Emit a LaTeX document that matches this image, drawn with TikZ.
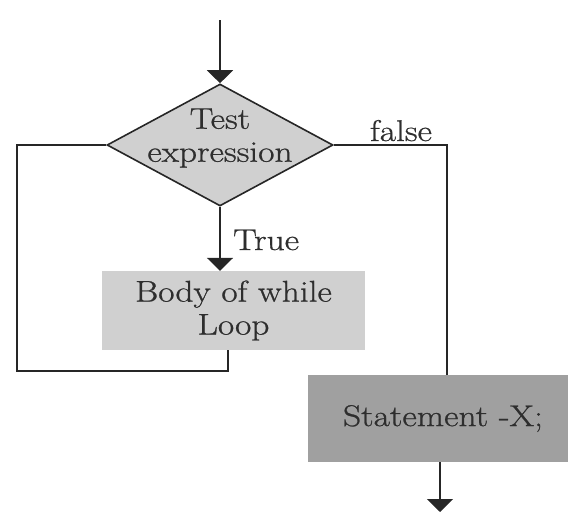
\documentclass[tikz,border=0pt]{standalone}
\usepackage{fontspec}
\newfontfamily\diagfont{Latin Modern Roman}[FakeStretch=1.18,FakeBold=0.8]
\usetikzlibrary{shapes.geometric,arrows.meta}
\definecolor{inkline}{HTML}{262626}
\definecolor{inktext}{HTML}{2E2E2E}
\definecolor{lightfill}{HTML}{D0D0D0}
\definecolor{darkfill}{HTML}{A0A0A0}
\begin{document}
\begin{tikzpicture}[x=1pt,y=-1pt,
  font=\diagfont\fontsize{30}{33}\selectfont,
  every node/.style={text=inktext},
  flow/.style={draw=inkline,line width=2pt},
  arrowline/.style={flow,-{Triangle[width=26pt,length=13pt]}},
  decision/.style={diamond,draw=inkline,line width=1.6pt,fill=lightfill,
    minimum width=226pt,minimum height=122pt,inner sep=0pt},
  bodybox/.style={rectangle,fill=lightfill,minimum width=263pt,
    minimum height=79pt,inner sep=0pt,align=center},
  stmtbox/.style={rectangle,fill=darkfill,minimum width=260pt,
    minimum height=87pt,inner sep=0pt,align=center},
  tag/.style={inner sep=0pt}]
  \useasboundingbox (0,0) rectangle (569,514);

  % decision, loop body and the statement after the loop
  \node[decision] (test) at (220,145) {};
  \node[tag,align=center] (testtext) at (220,138) {Test\\expression};
  \node[bodybox] (body) at (233.5,310.5) {Body of while\\Loop};
  \node[stmtbox] (stmt) at (438,418.5) {\hspace*{10pt}Statement -X;};

  % helper points for the connectors
  \coordinate (entry) at (220,20);
  \coordinate (loopdown) at (228,371);
  \coordinate (loopleft) at (17,371);
  \coordinate (falsecorner) at (447,145);
  \coordinate (exit) at (440,512);

  % entry into the test
  \draw[arrowline] (entry) -- (test.north);
  % true branch into the body
  \draw[arrowline] (test.south) -- (test.south |- body.north);
  \node[tag,anchor=base west] (truetag) at (233,250) {True};
  % return from the body back to the test
  \draw[flow,line join=miter] (body.south -| loopdown) -- (loopdown) -- (loopleft)
    |- (test.west);
  % false branch to the statement
  \draw[flow,line join=miter] (test.east) -- (falsecorner) -- (falsecorner |- stmt.north);
  \node[tag,anchor=base] (falsetag) at (401,141) {false};
  % leaving the statement
  \draw[arrowline] (stmt.south -| exit) -- (exit);
\end{tikzpicture}
\end{document}
